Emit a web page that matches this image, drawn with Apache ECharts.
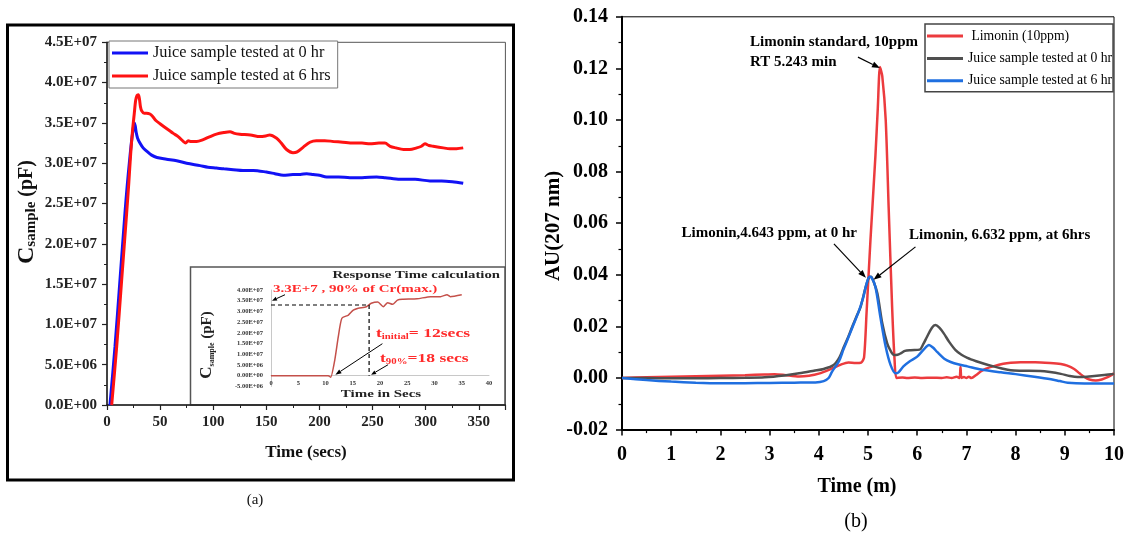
<!DOCTYPE html>
<html>
<head>
<meta charset="utf-8">
<script src="https://cdn.jsdelivr.net/npm/echarts@6/dist/echarts.min.js"></script>
<style>
  html, body { margin: 0; padding: 0; background: #fff; }
  #panelA { position: absolute; left: 0; top: 0; width: 540px; height: 536px; }
  #panelB { position: absolute; left: 540px; top: 0; width: 589px; height: 536px; }
</style>
</head>
<body>
<div id="panelA"></div>
<div id="panelB"></div>
<script>
// ---------------- Panel (a): sensor capacitance vs time ----------------
const namesA = ['Juice sample tested at 0 hr', 'Juice sample tested at 6 hrs'];

const timeA0 = [2.8, 7.5, 12.2, 16.9, 19.0, 21.0, 23.0, 24.6, 25.7, 26.6, 27.5, 28.8, 31.0, 34.0, 37.3, 42.0,
  47.0, 56.0, 65.6, 75.0, 87.5, 95.0, 103.0, 110.0, 118.9, 128.0, 137.7, 150.0, 158.0, 166.0, 175.0, 182.0,
  188.0, 194.0, 200.0, 206.8, 218.0, 228.7, 240.0, 253.8, 262.0, 275.8, 290.0, 304.0, 315.0, 325.0, 335.3];
const capA0 = [0, 0.72e7, 1.55e7, 2.38e7, 2.72e7, 3.00e7, 3.26e7, 3.42e7, 3.50e7, 3.46e7, 3.38e7, 3.31e7, 3.25e7,
  3.19e7, 3.15e7, 3.10e7, 3.07e7, 3.05e7, 3.03e7, 3.00e7, 2.97e7, 2.95e7, 2.94e7, 2.93e7, 2.92e7, 2.91e7, 2.91e7,
  2.89e7, 2.87e7, 2.85e7, 2.86e7, 2.86e7, 2.87e7, 2.86e7, 2.85e7, 2.83e7, 2.83e7, 2.82e7, 2.82e7, 2.83e7, 2.82e7,
  2.80e7, 2.80e7, 2.78e7, 2.78e7, 2.77e7, 2.75e7];

const timeA6 = [4.4, 9.1, 13.8, 18.5, 20.5, 22.3, 24.0, 25.7, 27.0, 28.3, 29.5, 30.5, 31.5, 32.6, 35.0, 37.3, 40.4,
  43.0, 46.0, 49.9, 55.0, 62.4, 67.0, 71.8, 74.0, 76.5, 79.0, 84.4, 90.0, 97.0, 103.0, 110.0, 115.8, 120.0, 125.0,
  135.0, 144.0, 150.0, 153.0, 159.7, 164.0, 169.0, 175.0, 179.0, 184.8, 191.0, 197.0, 205.0, 213.0, 222.0, 231.8,
  240.0, 247.5, 256.0, 261.6, 266.5, 272.0, 279.0, 285.0, 291.5, 296.0, 299.3, 303.0, 307.0, 316.5, 322.8, 329.0, 335.3];
const capA6 = [0, 0.72e7, 1.55e7, 2.38e7, 2.75e7, 3.12e7, 3.40e7, 3.62e7, 3.78e7, 3.84e7, 3.85e7, 3.80e7, 3.70e7,
  3.65e7, 3.62e7, 3.62e7, 3.61e7, 3.58e7, 3.53e7, 3.49e7, 3.44e7, 3.37e7, 3.33e7, 3.27e7, 3.25e7, 3.28e7, 3.27e7,
  3.27e7, 3.29e7, 3.33e7, 3.36e7, 3.38e7, 3.39e7, 3.37e7, 3.36e7, 3.35e7, 3.33e7, 3.34e7, 3.35e7, 3.31e7, 3.25e7,
  3.17e7, 3.13e7, 3.14e7, 3.20e7, 3.26e7, 3.28e7, 3.28e7, 3.27e7, 3.26e7, 3.25e7, 3.25e7, 3.24e7, 3.25e7, 3.25e7,
  3.21e7, 3.19e7, 3.17e7, 3.17e7, 3.19e7, 3.21e7, 3.24e7, 3.22e7, 3.21e7, 3.19e7, 3.18e7, 3.18e7, 3.19e7];

const yTicksA = ['0.0E+00', '5.0E+06', '1.0E+07', '1.5E+07', '2.0E+07', '2.5E+07', '3.0E+07', '3.5E+07', '4.0E+07', '4.5E+07'];

// Inset: response time calculation
const insetTime = [0, 5, 10.5, 10.95, 11.7, 12.35, 13.0, 14.2, 15.1, 16.0, 17.5, 18.4, 19.6, 20.6, 21.4, 22.3,
  23.2, 24.1, 26.8, 29.3, 31.1, 32.3, 32.9, 35.0];
const insetCap = [0, 0, 0, -0.07e7, 0.73e7, 1.82e7, 2.68e7, 2.83e7, 3.06e7, 3.15e7, 3.22e7, 3.38e7, 3.44e7, 3.22e7,
  3.41e7, 3.33e7, 3.53e7, 3.57e7, 3.59e7, 3.69e7, 3.69e7, 3.78e7, 3.69e7, 3.78e7];
const insetYTicks = ['-5.00E+06', '0.00E+00', '5.00E+06', '1.00E+07', '1.50E+07', '2.00E+07', '2.50E+07',
  '3.00E+07', '3.50E+07', '4.00E+07'];
const tInitial = 12;   // secs
const t90 = 18;        // secs
const c90 = 3.3e7;     // 90 % of Cr(max.)

// ---------------- Panel (b): HPLC chromatograms ----------------
const namesB = ['Limonin (10ppm)', 'Juice sample tested at 0 hr', 'Juice sample tested at 6 hr'];

const timeStd = [0, 0.5, 1, 1.5, 2, 2.5, 2.9, 3.1, 3.3, 3.6, 3.8, 4.0, 4.27, 4.45, 4.6, 4.75, 4.86, 4.92, 4.97,
  5.05, 5.15, 5.2, 5.243, 5.29, 5.36, 5.42, 5.49, 5.54, 5.58, 5.7, 5.8, 5.95, 6.1, 6.3, 6.5, 6.6, 6.7, 6.8, 6.86,
  6.88, 6.9, 6.95, 7.0, 7.05, 7.1, 7.2, 7.29, 7.4, 7.56, 7.75, 7.9, 8.1, 8.4, 8.7, 8.92, 9.05, 9.19, 9.3, 9.39,
  9.5, 9.63, 9.75, 9.87, 10];
const auStd = [0, 0.0003, 0.0005, 0.0007, 0.0009, 0.0011, 0.0014, 0.0015, 0.0012, 0.0006, 0.0009, 0.0017, 0.0037,
  0.0052, 0.0060, 0.0058, 0.0060, 0.0080, 0.0250, 0.0535, 0.0858, 0.1050, 0.1205, 0.1170, 0.1000, 0.0660, 0.0276,
  0.0070, 0, 0.0002, 0, 0.0002, 0, 0.0001, 0, 0.0003, 0, 0.0005, 0, 0.0044, 0, 0.0004, 0, 0.0005, 0, 0.0012,
  0.0025, 0.0036, 0.0046, 0.0055, 0.0059, 0.0061, 0.0061, 0.0058, 0.0054, 0.0048, 0.0035, 0.0018, 0.0005,
  -0.0006, -0.0010, -0.0006, 0.0003, 0.0018];

const timeJ0 = [0, 0.5, 1, 1.5, 2, 2.5, 2.9, 3.3, 3.6, 3.9, 4.1, 4.3, 4.42, 4.51, 4.6, 4.68, 4.77, 4.85, 4.95,
  5.02, 5.06, 5.12, 5.19, 5.29, 5.39, 5.46, 5.53, 5.6, 5.66, 5.75, 5.87, 6.05, 6.12, 6.2, 6.3, 6.37, 6.45, 6.54,
  6.65, 6.78, 6.9, 7.02, 7.2, 7.36, 7.55, 7.7, 7.9, 8.1, 8.5, 8.7, 8.92, 9.1, 9.26, 9.45, 9.6, 9.8, 10];
const auJ0 = [0, 0, -0.0001, -0.0001, 0, 0.0001, 0.0003, 0.0010, 0.0018, 0.0028, 0.0035, 0.0050, 0.0080, 0.0121,
  0.0160, 0.0199, 0.0240, 0.0276, 0.0350, 0.0390, 0.0392, 0.0370, 0.0328, 0.0212, 0.0134, 0.0105, 0.0089, 0.0090,
  0.0095, 0.0105, 0.0108, 0.0110, 0.0130, 0.0160, 0.0195, 0.0205, 0.0195, 0.0173, 0.0140, 0.0108, 0.0090, 0.0078,
  0.0065, 0.0055, 0.0045, 0.0038, 0.0030, 0.0028, 0.0027, 0.0023, 0.0016, 0.0008, 0.0004, 0.0005, 0.0008, 0.0012,
  0.0016];

const timeJ6 = [0, 0.5, 1, 1.5, 2, 2.5, 3, 3.5, 3.93, 4.1, 4.2, 4.27, 4.41, 4.5, 4.58, 4.68, 4.81, 4.9, 4.97, 5.03,
  5.07, 5.15, 5.25, 5.36, 5.46, 5.56, 5.62, 5.72, 5.85, 6.0, 6.13, 6.24, 6.32, 6.41, 6.55, 6.68, 6.85, 7.02, 7.3,
  7.7, 8.0, 8.38, 8.72, 8.9, 9.06, 9.4, 10];
const auJ6 = [0, -0.0008, -0.0014, -0.0018, -0.0020, -0.0020, -0.0019, -0.0018, -0.0017, -0.0012, 0, 0.0025,
  0.0065, 0.0110, 0.0147, 0.0195, 0.0257, 0.0310, 0.0365, 0.0392, 0.0390, 0.0354, 0.0238, 0.0121, 0.0050, 0.0018,
  0.0022, 0.0045, 0.0065, 0.0083, 0.0110, 0.0128, 0.0118, 0.0100, 0.0075, 0.0062, 0.0052, 0.0045, 0.0033, 0.0022,
  0.0015, 0.0005, -0.0005, -0.0012, -0.0018, -0.0021, -0.0021];

const yTicksB = ['-0.02', '0.00', '0.02', '0.04', '0.06', '0.08', '0.10', '0.12', '0.14'];

// ---------------- helpers ----------------
const SERIF = '"Liberation Serif", "Times New Roman", serif';
const pairs = (xs, ys) => xs.map((x, i) => [x, ys[i]]);

function lineSeries(name, data, color, width, xi, yi, smooth) {
  return {
    name, type: 'line', data, xAxisIndex: xi, yAxisIndex: yi,
    showSymbol: false, symbol: 'none', smooth: smooth,
    lineStyle: { color, width }, itemStyle: { color }, emphasis: { disabled: true }
  };
}

function arrowEls(tip, tail, headLen, headW, width) {
  const from = [tip[0] + tail[0], tip[1] + tail[1]];
  const ang = Math.atan2(tip[1] - from[1], tip[0] - from[0]);
  const bx = tip[0] - headLen * Math.cos(ang), by = tip[1] - headLen * Math.sin(ang);
  const nx = -Math.sin(ang) * headW / 2, ny = Math.cos(ang) * headW / 2;
  return [
    { type: 'line', z: 50, shape: { x1: from[0], y1: from[1], x2: bx, y2: by }, style: { stroke: '#000', lineWidth: width } },
    { type: 'polygon', z: 50, shape: { points: [tip, [bx + nx, by + ny], [bx - nx, by - ny]] }, style: { fill: '#000' } }
  ];
}

function text(x, y, str, opts) {
  return Object.assign({ type: 'text', x, y, z: 50, style: Object.assign({
    text: str, fontFamily: SERIF, fontSize: 15, fontWeight: 'bold', fill: '#000', align: 'left', verticalAlign: 'middle'
  }, opts.style || {}) }, opts.el || {});
}

// ---------------- chart (a) ----------------
const chartA = echarts.init(document.getElementById('panelA'), null, { renderer: 'canvas' });
const axisA = { color: '#222', width: 1.5 };
const insetTop = 290, insetHeight = 96.4;
chartA.setOption({
  animation: false,
  grid: [
    { left: 107, top: 42.3, width: 398.4, height: 362.7, show: true, borderColor: '#555', borderWidth: 1 },
    { left: 271, top: insetTop, width: 218, height: insetHeight }
  ],
  xAxis: [
    { gridIndex: 0, type: 'value', min: 0, max: 375, interval: 50,
      axisLine: { onZero: false, lineStyle: axisA },
      axisTick: { length: 5, lineStyle: { color: '#222', width: 1.2 } },
      minorTick: { show: true, splitNumber: 2, length: 3, lineStyle: { color: '#222', width: 1 } },
      splitLine: { show: false },
      axisLabel: { showMaxLabel: false, margin: 10, fontFamily: SERIF, fontWeight: 'bold', fontSize: 15, color: '#222' } },
    // inset time axis sits on the zero line (one 5E+06 step above the bottom)
    { gridIndex: 1, type: 'value', min: 0, max: 40, interval: 5, offset: -insetHeight / 9,
      axisLine: { onZero: false, lineStyle: { color: '#c8c8c8', width: 1 } },
      axisTick: { show: false }, splitLine: { show: false },
      axisLabel: { margin: 4, fontFamily: SERIF, fontWeight: 'bold', fontSize: 6.5, color: '#333' } }
  ],
  yAxis: [
    { gridIndex: 0, type: 'value', min: 0, max: 4.5e7, interval: 5e6,
      axisLine: { show: true, lineStyle: axisA },
      axisTick: { show: true, length: 5, lineStyle: { color: '#222', width: 1.2 } },
      minorTick: { show: true, splitNumber: 2, length: 3, lineStyle: { color: '#222', width: 1 } },
      splitLine: { show: false },
      axisLabel: { margin: 10, fontFamily: SERIF, fontWeight: 'bold', fontSize: 15, color: '#222',
        formatter: v => yTicksA[Math.round(v / 5e6)] } },
    { gridIndex: 1, type: 'value', min: -5e6, max: 4e7, interval: 5e6,
      axisLine: { show: true, lineStyle: { color: '#c8c8c8', width: 1 } },
      axisTick: { show: false }, splitLine: { show: false },
      axisLabel: { margin: 8, fontFamily: SERIF, fontWeight: 'bold', fontSize: 6.5, color: '#333',
        formatter: v => insetYTicks[Math.round(v / 5e6) + 1] } }
  ],
  legend: {
    left: 109, top: 41, orient: 'vertical', data: namesA, icon: 'rect', itemWidth: 36, itemHeight: 3,
    itemGap: 7, padding: [4, 7, 4, 3], borderColor: '#777', borderWidth: 1, backgroundColor: '#fff',
    selectedMode: false, textStyle: { fontFamily: SERIF, fontSize: 16.3, color: '#111' }
  },
  series: [
    lineSeries(namesA[0], pairs(timeA0, capA0), '#1212f5', 3, 0, 0, 0.3),
    lineSeries(namesA[1], pairs(timeA6, capA6), '#ff1212', 3, 0, 0, 0.3),
    lineSeries('Inset response', pairs(insetTime, insetCap), '#c4504a', 1.5, 1, 1, 0.2),
    Object.assign(lineSeries('90% guide', [[0, c90], [t90, c90], [t90, 0]], '#000', 1.2, 1, 1, false),
      { lineStyle: { color: '#000', width: 1.2, type: [4, 3] } })
  ]
});

{
  const finder = { gridIndex: 1 };
  const pInit = chartA.convertToPixel(finder, [tInitial, 0]);
  const p90 = chartA.convertToPixel(finder, [t90, 0]);
  const pCmax = chartA.convertToPixel(finder, [0, 3.5e7]);
  const els = [
    // outer frame of the panel
    { type: 'rect', z: -2, shape: { x: 7.5, y: 25, width: 506, height: 455 }, style: { fill: 'none', stroke: '#000', lineWidth: 3 } },
    // inset frame
    { type: 'rect', z: -1, shape: { x: 190.5, y: 267, width: 314.5, height: 138 }, style: { fill: '#fff', stroke: '#555', lineWidth: 1.5 } },
    text(27, 212, '{c|C}{s|sample}{p| (pF)}', { el: { rotation: Math.PI / 2 }, style: { align: 'center', rich: {
      c: { fontFamily: SERIF, fontWeight: 'bold', fontSize: 24, lineHeight: 24, fill: '#111' },
      s: { fontFamily: SERIF, fontWeight: 'bold', fontSize: 15, lineHeight: 15, verticalAlign: 'bottom', fill: '#111' },
      p: { fontFamily: SERIF, fontWeight: 'bold', fontSize: 20, lineHeight: 24, fill: '#111' } } } }),
    text(306, 453, 'Time (secs)', { style: { align: 'center', fontSize: 17, fill: '#111' } }),
    text(255, 500, '(a)', { style: { align: 'center', fontSize: 15, fontWeight: 'normal', fill: '#111' } }),
    // inset texts
    text(500, 275, 'Response Time calculation', { el: { scaleX: 1.34 }, style: { align: 'right', fontSize: 11, fill: '#222' } }),
    text(207, 345, '{c|C}{s|sample}{p| (pF)}', { el: { rotation: Math.PI / 2 }, style: { align: 'center', rich: {
      c: { fontFamily: SERIF, fontWeight: 'bold', fontSize: 17, lineHeight: 17, fill: '#222' },
      s: { fontFamily: SERIF, fontWeight: 'bold', fontSize: 8, lineHeight: 8, verticalAlign: 'bottom', fill: '#222' },
      p: { fontFamily: SERIF, fontWeight: 'bold', fontSize: 15, lineHeight: 17, fill: '#222' } } } }),
    text(381, 394, 'Time in Secs', { el: { scaleX: 1.36 }, style: { align: 'center', fontSize: 11, fill: '#222' } }),
    text(273, 289, '3.3E+7 , 90% of Cr(max.)', { el: { scaleX: 1.36 }, style: { fontSize: 11, fill: '#ff2a2a' } }),
    text(376, 334, '{t|t}{s|initial}{t|= 12secs}', { el: { scaleX: 1.35 }, style: { rich: {
      t: { fontFamily: SERIF, fontWeight: 'bold', fontSize: 13, lineHeight: 13, fill: '#ff2a2a' },
      s: { fontFamily: SERIF, fontWeight: 'bold', fontSize: 8, lineHeight: 8, verticalAlign: 'bottom', fill: '#ff2a2a' } } } }),
    text(380, 359, '{t|t}{s|90%}{t|=18 secs}', { el: { scaleX: 1.35 }, style: { rich: {
      t: { fontFamily: SERIF, fontWeight: 'bold', fontSize: 13, lineHeight: 13, fill: '#ff2a2a' },
      s: { fontFamily: SERIF, fontWeight: 'bold', fontSize: 8, lineHeight: 8, verticalAlign: 'bottom', fill: '#ff2a2a' } } } })
  ].concat(
    arrowEls([pCmax[0] + 1, pCmax[1]], [13, -6], 5, 4, 1),
    arrowEls([pInit[0] - 1, pInit[1] - 1], [47, -31], 6, 4.5, 1),
    arrowEls([p90[0] + 2, p90[1] - 1], [17, -10], 5, 4, 1)
  );
  chartA.setOption({ graphic: { elements: els } });
}

// ---------------- chart (b) ----------------
const chartB = echarts.init(document.getElementById('panelB'), null, { renderer: 'canvas' });
const axisB = { color: '#000', width: 2 };
chartB.setOption({
  animation: false,
  grid: { left: 82, top: 16.8, width: 492, height: 412.8, show: true, borderColor: '#000', borderWidth: 1 },
  xAxis: { type: 'value', min: 0, max: 10, interval: 1,
    axisLine: { onZero: false, lineStyle: axisB },
    axisTick: { length: 6, lineStyle: { color: '#000', width: 1.5 } },
    minorTick: { show: true, splitNumber: 2, length: 3.5, lineStyle: { color: '#000', width: 1.2 } },
    splitLine: { show: false },
    axisLabel: { margin: 15, fontFamily: SERIF, fontWeight: 'bold', fontSize: 20, color: '#000' } },
  yAxis: { type: 'value', min: -0.02, max: 0.14, interval: 0.02,
    axisLine: { show: true, lineStyle: axisB },
    axisTick: { show: true, length: 6, lineStyle: { color: '#000', width: 1.5 } },
    minorTick: { show: true, splitNumber: 2, length: 3.5, lineStyle: { color: '#000', width: 1.2 } },
    splitLine: { show: false },
    axisLabel: { margin: 14, fontFamily: SERIF, fontWeight: 'bold', fontSize: 20, color: '#000',
      formatter: v => yTicksB[Math.round((v + 0.02) / 0.02)] } },
  legend: {
    left: 385, top: 24, orient: 'vertical', data: namesB, icon: 'rect', itemWidth: 36, itemHeight: 3,
    itemGap: 8.4, padding: [5, 1, 4, 2], borderColor: '#444', borderWidth: 1.5, backgroundColor: '#fff',
    selectedMode: false, textStyle: { fontFamily: SERIF, fontSize: 13.7, color: '#000' },
    formatter: n => (n === namesB[0] ? ' ' + n : n)
  },
  series: [
    lineSeries(namesB[0], pairs(timeStd, auStd), '#ec3b3e', 2.5, 0, 0, 0.25),
    lineSeries(namesB[1], pairs(timeJ0, auJ0), '#4f4f4f', 2.5, 0, 0, 0.3),
    lineSeries(namesB[2], pairs(timeJ6, auJ6), '#1f6fe0', 2.5, 0, 0, 0.3)
  ]
});

{
  const finder = { gridIndex: 0 };
  const iStd = auStd.indexOf(Math.max(...auStd));
  const i0 = auJ0.indexOf(Math.max(...auJ0));
  const i6 = auJ6.indexOf(Math.max(...auJ6));
  const pStd = chartB.convertToPixel(finder, [timeStd[iStd], auStd[iStd]]);
  const p0 = chartB.convertToPixel(finder, [timeJ0[i0], auJ0[i0]]);
  const p6 = chartB.convertToPixel(finder, [timeJ6[i6], auJ6[i6]]);
  const els = [
    text(210, 42, 'Limonin standard, 10ppm', {}),
    text(210, 62, 'RT 5.243 min', {}),
    text(317, 233, 'Limonin,4.643 ppm, at 0 hr', { style: { align: 'right' } }),
    text(369, 235, 'Limonin, 6.632 ppm, at 6hrs', {}),
    text(14, 226, 'AU(207 nm)', { el: { rotation: Math.PI / 2 }, style: { align: 'center', fontSize: 21 } }),
    text(317, 487, 'Time (m)', { style: { align: 'center', fontSize: 20 } }),
    text(316, 522, '(b)', { style: { align: 'center', fontSize: 20, fontWeight: 'normal' } })
  ].concat(
    arrowEls([pStd[0], pStd[1] + 1], [-22, -11], 8, 6, 1.2),
    arrowEls([p0[0] - 5, p0[1] + 1], [-32, -34], 8, 6, 1.2),
    arrowEls([p6[0] + 4, p6[1] + 3], [42, -33], 8, 6, 1.2)
  );
  chartB.setOption({ graphic: { elements: els } });
}
</script>
</body>
</html>
